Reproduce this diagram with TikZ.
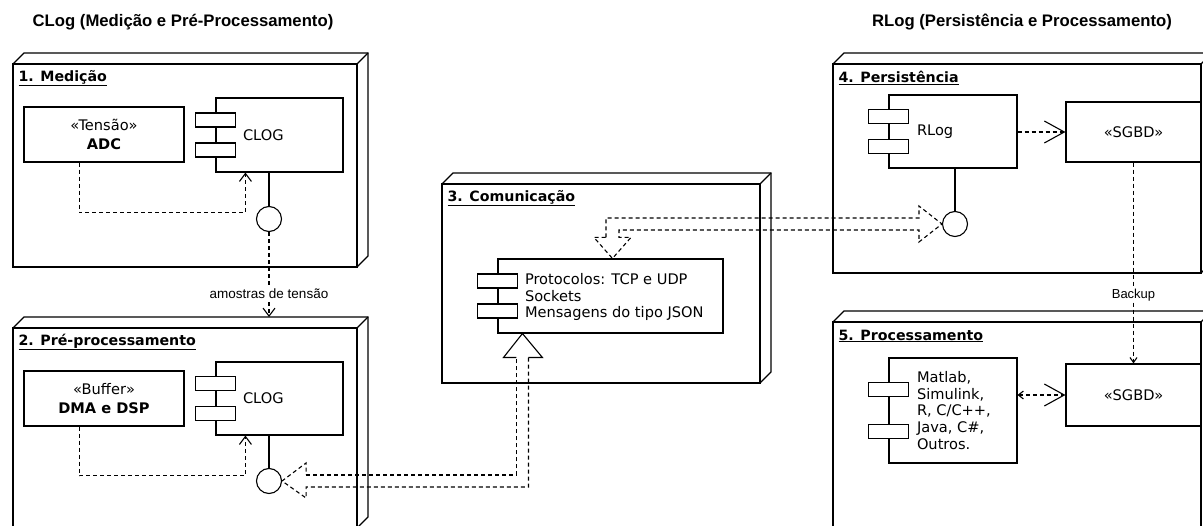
\documentclass[tikz,border=0pt]{standalone}
\usepackage{fontspec}
\setmainfont{DejaVu Sans}
\newfontfamily\arialfont{Liberation Sans}
\usetikzlibrary{arrows.meta, positioning, calc}

% 3D deployment node: name, x1, y1, x2, y2, title
\newcommand{\umlnode}[6]{%
  \draw (#2,#3) rectangle (#4,#5);
  \draw (#2,#3) -- ++(11,-11) -| ($(#4,#5)+(11,-11)$) -- (#4,#5);
  \draw (#4,#3) -- ++(11,-11);
  \coordinate (#1-back) at (#2+11,#3-11);
  \node[ntitle] (#1-title) at (#2+5,#3+14) {\underline{#6}};
}
% the two little port boxes of a component
\newcommand{\ports}[1]{%
  \foreach \f in {0.3,0.7}
    \draw[fill=white] ($(#1.north west)!\f!(#1.south west)+(-20,-7)$) rectangle ++(40,14);
}

\begin{document}
\begin{tikzpicture}[x=1pt, y=-1pt,
    line width=1.1pt,
    hdr/.style={font=\arialfont\bfseries\fontsize{16.7}{19}\selectfont, inner sep=0pt},
    ntitle/.style={anchor=west, inner sep=0pt, font=\bfseries\fontsize{14.2}{16}\selectfont},
    box/.style={draw, fill=white, align=center, inner sep=0pt, font=\fontsize{14.6}{19.5}\selectfont},
    comp/.style={draw, fill=white, inner sep=0pt},
    txt/.style={anchor=west, align=left, inner sep=0pt, font=\fontsize{14.6}{16.8}\selectfont},
    lolli/.style={draw, circle, fill=white, minimum size=25pt, inner sep=0pt},
    lbl/.style={fill=white, inner sep=1pt, font=\arialfont\fontsize{13.5}{15}\selectfont},
    dep/.style={dash pattern=on 4pt off 3pt, -{Straight Barb[length=8pt, width=12pt]}},
    depsmall/.style={dash pattern=on 4pt off 3pt, -{Straight Barb[length=5pt, width=7pt]}},
    depbig/.style={dash pattern=on 4pt off 3pt, -{Straight Barb[length=20pt, width=22pt]}},
    fat/.style={dash pattern=on 4pt off 3pt},
]
    \clip (0,0) rectangle (1203,526);

    % headers
    \node[hdr] (clogT) at (183,22) {CLog (Medição e Pré-Processamento)};
    \node[hdr] (rlogT) at (1022,22) {RLog (Persistência e Processamento)};

    % nodes
    \umlnode{med}{13}{64}{357}{267}{1. Medição}
    \umlnode{pre}{13}{328}{357}{528}{2. Pré-processamento}
    \umlnode{com}{442}{184}{760}{383}{3. Comunicação}
    \umlnode{per}{833}{64}{1201}{273}{4. Persistência}
    \umlnode{pro}{833}{322}{1201}{530}{5. Processamento}

    % 1. Medicao
    \node[box, minimum width=160pt, minimum height=55pt] (adc) at (104,134.5) {«Tensão»\\\textbf{ADC}};
    \node[comp, minimum width=127pt, minimum height=74pt] (clogA) at (279.5,135) {};
    \ports{clogA}
    \node[txt] (clogAtxt) at ($(clogA.west)+(27,0)$) {CLOG};
    \node[lolli] (lolliA) at (269,219) {};
    \draw (clogA.south -| lolliA) -- (lolliA);
    \draw[dep] ($(adc.south west)+(56,0)$) |- ($(clogA.south west)+(30,40)$) -- ($(clogA.south west)+(30,0)$);

    % 2. Pre-processamento
    \node[box, minimum width=160pt, minimum height=55pt] (buf) at (104,398.5) {«Buffer»\\\textbf{DMA e DSP}};
    \node[comp, minimum width=127pt, minimum height=73pt] (clogB) at (279.5,398.5) {};
    \ports{clogB}
    \node[txt] (clogBtxt) at ($(clogB.west)+(27,0)$) {CLOG};
    \node[lolli] (lolliB) at (269,481) {};
    \draw (clogB.south -| lolliB) -- (lolliB);
    \draw[dep] ($(buf.south west)+(56,0)$) |- ($(clogB.south west)+(30,40)$) -- ($(clogB.south west)+(30,0)$);

    \draw[dep] (lolliA) -- (lolliA |- pre-back)
        node[lbl, pos=0.72] (amostras) {amostras de tensão};

    % 3. Comunicacao
    \node[comp, minimum width=225pt, minimum height=74pt] (comC) at (610.5,296) {};
    \ports{comC}
    \node[txt] (comCtxt) at ($(comC.west)+(27,1)$) {Protocolos: TCP e UDP\\Sockets\\Mensagens do tipo JSON};

    % 4. Persistencia
    \node[comp, minimum width=128pt, minimum height=73pt] (comD) at (953,131.5) {};
    \ports{comD}
    \node[txt] (comDtxt) at ($(comD.west)+(28,0)$) {RLog};
    \node[box, minimum width=135pt, minimum height=60pt] (sgbdD) at (1133.5,132) {«SGBD»};
    \node[lolli] (lolliD) at (955,224) {};
    \draw (comD.south -| lolliD) -- (lolliD);
    \draw[depbig] (sgbdD.west -| comD.east) -- (sgbdD.west);

    % 5. Processamento
    \node[comp, minimum width=128pt, minimum height=105pt] (comE) at (953,410.5) {};
    \ports{comE}
    \node[txt] (comEtxt) at ($(comE.west)+(28,0)$) {Matlab,\\Simulink,\\R, C/C++,\\Java, C\#,\\Outros.};
    \node[box, minimum width=135pt, minimum height=62pt] (sgbdE) at (1133.5,395) {«SGBD»};
    \draw[dash pattern=on 4pt off 3pt, {Straight Barb[length=5pt, width=8pt]}-{Straight Barb[length=20pt, width=22pt]}]
        (sgbdE.west -| comE.east) -- (sgbdE.west);

    \draw[depsmall] (sgbdD) -- (sgbdE) node[lbl, pos=0.66, font=\arialfont\fontsize{13}{15}\selectfont] (backup) {Backup};

    % fat interface arrows
    \coordinate (tipC) at ($(comC.north west)+(115,0)$);
    \coordinate (tipD) at (lolliD.west);
    \draw[fat] ($(tipC)+(-6.5,-21)$) |- ($(tipD)+(-23,-6)$) -- ++(0,-12) -- (tipD)
        -- ($(tipD)+(-23,18)$) -- ++(0,-12) -| ($(tipC)+(6.5,-21)$) -- ++(12,0) -- (tipC)
        -- ($(tipC)+(-18.5,-21)$) -- cycle;

    \coordinate (tipB) at ($(comC.south west)+(25,0)$);
    \coordinate (tipA) at (lolliB.east);
    \draw[fat] ($(tipA)+(24,-6)$) -| ($(tipB)+(-6,24)$);
    \draw[fat] ($(tipB)+(6,24)$) |- ($(tipA)+(24,6)$) -- ++(0,11) -- (tipA)
        -- ($(tipA)+(24,-18)$) -- ++(0,12);
    \draw ($(tipB)+(-6,24)$) -- ++(-13,0) -- (tipB) -- ($(tipB)+(20,24)$) -- ++(-14,0);
\end{tikzpicture}
\end{document}
